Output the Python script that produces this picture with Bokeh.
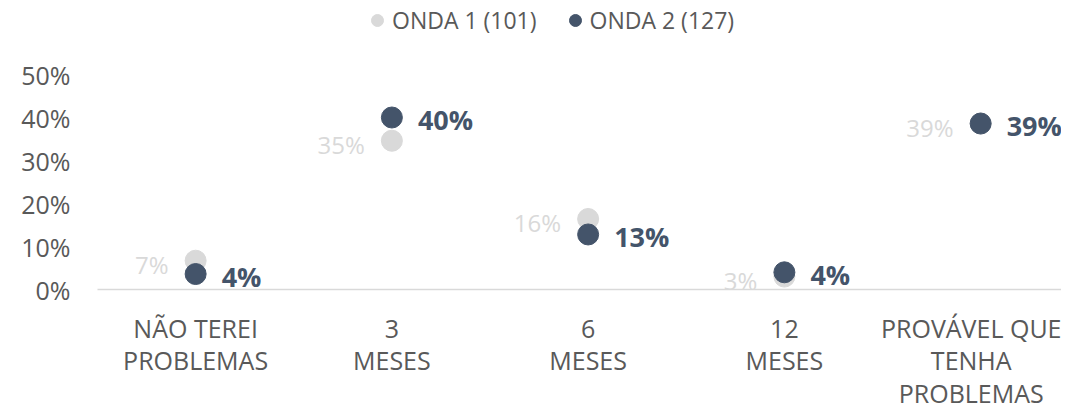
from bokeh.plotting import figure
from bokeh.layouts import column
from bokeh.models import ColumnDataSource, FixedTicker, Legend, LegendItem, Range1d, NumeralTickFormatter
from bokeh.core.properties import value
from bokeh.embed import file_html
from bokeh.resources import INLINE

categories = ["NÃO TEREI\nPROBLEMAS", "3\nMESES", "6\nMESES", "12\nMESES", "PROVÁVEL QUE\nTENHA\nPROBLEMAS"]
onda1 = [0.067, 0.346, 0.164, 0.03, 0.386]
onda2 = [0.036, 0.40, 0.128, 0.04, 0.386]
series_names = ["ONDA 1 (101)", "ONDA 2 (127)"]
y_ticks = [0, 0.1, 0.2, 0.3, 0.4, 0.5]

FONT = "Open Sans"
C1 = "#D9D9D9"
C2 = "#44546A"
TXT = "#595959"

xs = list(range(len(categories)))
src1 = ColumnDataSource(dict(x=xs, y=onda1, lab=[f"{round(v*100)}%" for v in onda1]))
src2 = ColumnDataSource(dict(x=xs, y=onda2, lab=[f"{round(v*100)}%" for v in onda2]))

p = figure(frame_width=964, frame_height=215, output_backend="svg", toolbar_location=None,
           x_range=Range1d(-0.5, 4.412), y_range=Range1d(0, 0.5),
           min_border_left=97, min_border_right=0, min_border_top=34, min_border_bottom=0)
p.outline_line_color = None
p.xgrid.grid_line_color = None
p.ygrid.grid_line_color = None

r1 = p.scatter("x", "y", source=src1, size=21, color=C1)
r2 = p.scatter("x", "y", source=src2, size=21, color=C2)

p.text("x", "y", text="lab", source=src1, x_offset=-27, y_offset=4,
       text_align="right", text_baseline="middle", text_color=C1,
       text_font=value(FONT), text_font_size="24px")
p.text("x", "y", text="lab", source=src2, x_offset=26, y_offset=2,
       text_align="left", text_baseline="middle", text_color=C2,
       text_font=value(FONT), text_font_size="27px", text_font_style="bold")

p.yaxis.ticker = FixedTicker(ticks=y_ticks)
p.yaxis.formatter = NumeralTickFormatter(format="0%")
p.yaxis.axis_line_color = None
p.yaxis.major_tick_line_color = None
p.yaxis.minor_tick_line_color = None
p.yaxis.major_label_text_font = FONT
p.yaxis.major_label_text_font_size = "25px"
p.yaxis.major_label_text_color = TXT
p.yaxis.major_label_standoff = 21

p.xaxis.ticker = FixedTicker(ticks=xs)
p.xaxis.major_label_overrides = {i: c for i, c in zip(xs, categories)}
p.xaxis.axis_line_color = "#D9D9D9"
p.xaxis.axis_line_width = 1.5
p.xaxis.major_tick_line_color = None
p.xaxis.minor_tick_line_color = None
p.xaxis.major_label_text_font = FONT
p.xaxis.major_label_text_font_size = "25px"
p.xaxis.major_label_text_line_height = 0.97
p.xaxis.major_label_text_color = TXT
p.xaxis.major_label_standoff = 15

# legend row as its own small figure (proxy glyphs carry no visible data)
lg = figure(width=1061, height=40, output_backend="svg", toolbar_location=None,
            x_range=Range1d(0, 1), y_range=Range1d(0, 1),
            x_axis_location=None, y_axis_location=None, min_border=0)
lg.outline_line_color = None
lg.grid.visible = False
proxy = ColumnDataSource(dict(x=[float("nan")], y=[float("nan")]))
lr1 = lg.scatter("x", "y", source=proxy, size=13, color=C1)
lr2 = lg.scatter("x", "y", source=proxy, size=13, color=C2)
legend = Legend(items=[LegendItem(label=series_names[0], renderers=[lr1]),
                       LegendItem(label=series_names[1], renderers=[lr2])],
                orientation="horizontal", location=(265, 4),
                label_text_font=FONT, label_text_font_size="23px", label_text_color=TXT,
                glyph_width=30, glyph_height=30, spacing=23, label_standoff=0,
                border_line_color=None, background_fill_alpha=0, margin=0, padding=0)
lg.add_layout(legend, "center")

open("out.html", "w").write(file_html(column(lg, p, spacing=0), INLINE))
